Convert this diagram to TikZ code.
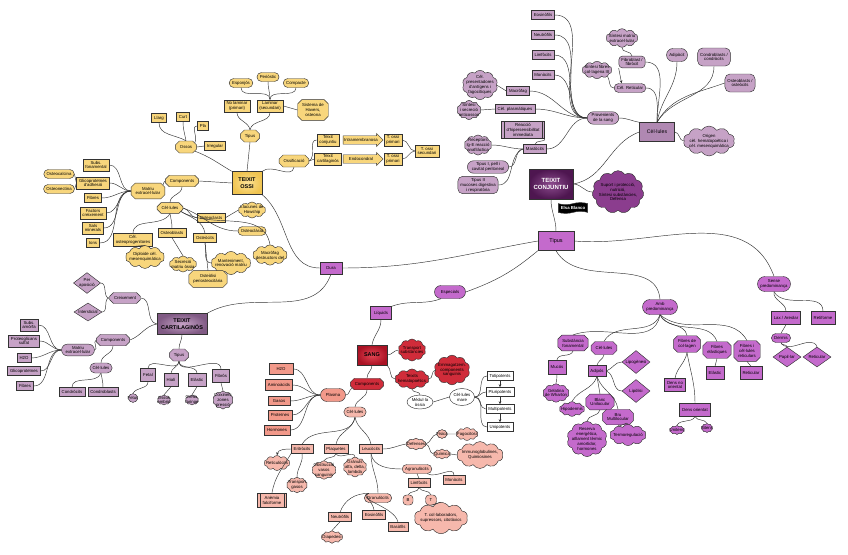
\documentclass[tikz,border=0pt]{standalone}
\usepackage{fontspec}
\setmainfont{Liberation Sans}
\usetikzlibrary{shapes.misc,shapes.geometric,shapes.symbols,shapes.arrows,arrows.meta}
\definecolor{yel}{HTML}{F8D67C}
\definecolor{mau}{HTML}{C6A2C6}
\definecolor{mau2}{HTML}{B088B2}
\definecolor{mag}{HTML}{C46ACC}
\definecolor{redd}{HTML}{D02C3A}
\definecolor{sal}{HTML}{F2998A}
\definecolor{sal2}{HTML}{F6B8AC}
\definecolor{edge}{HTML}{333333}
\tikzset{
 base/.style={draw=edge, line width=0.45pt, font=\fontsize{4.3}{4.9}\selectfont, align=center, inner xsep=2.5pt, inner ysep=1.8pt, minimum height=9pt},
 box/.style={base, rectangle},
 rbox/.style={base, rectangle, rounded corners=3.5pt},
 pill/.style={base, rounded rectangle},
 oct/.style={base, chamfered rectangle, chamfered rectangle xsep=2pt, chamfered rectangle ysep=2pt},
 cld/.style={base, cloud, cloud puffs=10, cloud puff arc=115, aspect=2.2, inner xsep=-2.2pt, inner ysep=-2.2pt},
 dia/.style={base, diamond, aspect=1.3, inner sep=0pt},
 ell/.style={base, ellipse, inner sep=0.5pt, fill=white},
 dbox/.style={box, inner xsep=5pt, path picture={\draw[edge,line width=0.4pt] ([xshift=2.2pt]path picture bounding box.north west) -- ([xshift=2.2pt]path picture bounding box.south west) ([xshift=-2.2pt]path picture bounding box.north east) -- ([xshift=-2.2pt]path picture bounding box.south east);}},
 barr/.style={base, single arrow, single arrow head extend=1.5pt, minimum height=40pt, minimum width=13pt, inner xsep=0.5pt, inner ysep=1pt},
 ln/.style={draw=edge, line width=0.45pt},
 ar/.style={ln, -{Stealth[length=3pt,width=2.6pt]}},
 Y/.style={fill=yel}, M/.style={fill=mau}, G/.style={fill=mag}, R/.style={fill=redd}, S/.style={fill=sal}, S2/.style={fill=sal2}, W/.style={fill=white}
}
\begin{document}
\begin{tikzpicture}[x=1pt,y=-1pt]
\useasboundingbox[fill=white] (0,0) rectangle (848,554);
% ================= top right (mauve) =================
\node[box,M] (eos) at (543,15) {Eosinòfils};
\node[box,M] (neu) at (543,35) {Neutròfils};
\node[box,M] (lim) at (543,55) {Limfòcits};
\node[box,M] (mon) at (543,75) {Monòcits};
\node[box,M] (mac) at (518,91) {Macròfag};
\node[cld,M,aspect=1.3] (cpa) at (480,85) {Cèl.\\presentadores\\d'antígens i\\fagocítiques};
\node[box,M] (cpl) at (515,109) {Cèl. plasmàtiques};
\node[cld,M,aspect=1.4] (sin) at (469,110) {Síntesi\\i secreció\\anticossos};
\node[pill,M] (prov) at (603,118) {Provenients\\de la sang};
\node[dbox,M] (rea) at (523,130) {Reacció\\d'hipersensibilitat\\immediata};
\node[cld,M,aspect=1.6] (rec) at (478,145) {Receptors\\Ig-E reacció\\anafilàctica};
\node[box,M] (mas) at (535,149) {Mastòcits};
\node[pill,M] (tI) at (488,167) {Tipus I, pell i\\cavitat peritoneal};
\node[rbox,M,rounded corners=5pt] (tII) at (478,185) {Tipus II\\mucoses digestiva\\i respiratòria};
\node[box,draw=edge,inner color={rgb,255:red,140;green,76;blue,142},outer color={rgb,255:red,78;green,22;blue,80},text=white,minimum width=44pt,minimum height=30pt,font=\fontsize{6}{7}\selectfont\bfseries] (tc) at (551,184) {TEIXIT\\CONJUNTIU};
\node[cld,fill={rgb,255:red,139;green,61;blue,142},cloud puffs=11,aspect=1.3] (sup) at (618,192) {Suport i protecció,\\nutrició,\\Síntesi substàncies,\\Defensa};
\node[base,tape,fill=black,text=white,font=\fontsize{4.3}{4.9}\selectfont\bfseries,tape bend height=2pt] (elsa) at (573,208) {Elsa Blanco};
\node[cld,M] (smat) at (622,38) {Síntesi matriu\\extracel·lular};
\node[cld,M] (sfib) at (597,70) {Síntesi fibres\\col·lagena III};
\node[rbox,M] (fib) at (632,62) {Fibroblast /\\fibròcit};
\node[pill,M] (ret) at (630,88) {Cèl. Reticular};
\node[pill,M,minimum height=13pt] (adi) at (677,55) {Adipòcit};
\node[rbox,M,rounded corners=5pt,minimum height=18pt] (cond) at (714,57) {Condroblasts /\\condròcits};
\node[rbox,M,rounded corners=5pt,minimum height=18pt] (ost) at (740,83) {Osteoblasts /\\osteòcits};
\node[box,fill=mau2,minimum width=35pt,minimum height=19pt,font=\fontsize{5.2}{6}\selectfont] (cel) at (657,132) {Cèl·lules};
\node[cld,M] (ori) at (709,141) {Origen\\cèl. hematopoètica i\\cèl. mesenquimàtica};
\node[box,G,minimum width=36pt,minimum height=19pt,font=\fontsize{5.5}{6}\selectfont] (tipus) at (556,241) {Tipus};
% connections
\foreach \n in {eos,neu,lim,mon,mac,cpl,mas}{\draw[ln] (\n.east) to[out=0,in=180] (prov.west);}
\draw[ln] (mac.west) -- (cpa.east);
\draw[ln] (cpl.west) -- (sin.east);
\draw[ln] (mas.north) to[out=90,in=-60] (rea.south east);
\draw[ln] (mas.west) to[out=180,in=0] (rec.east);
\draw[ln] (mas.west) to[out=180,in=0] (tI.east);
\draw[ln] (mas.west) to[out=200,in=0] (tII.east);
\draw[ln] (smat.south) to[out=-100,in=90] (fib.north);
\draw[ar] (fib.south west) -- ([xshift=3pt]ret.north west);
\draw[ln] (sfib.south east) to[out=-60,in=180] (ret.west);
\foreach \n in {fib,ret}{\draw[ln] (\n.east) to[out=0,in=90] (cel.north);}
\draw[ln] (adi.south) to[out=-90,in=80] (cel.north);
\draw[ln] (cond.south) to[out=-90,in=60] (cel.north);
\draw[ln] (ost.west) to[out=200,in=60] (cel.north);
\draw[ln] (prov.east) to[out=0,in=170] (cel.north west);
\draw[ln] (tc.east) to[out=10,in=200] (cel.west);
\draw[ln] (tc.east) to[out=0,in=180] (sup.west);
\draw[ln] (cel.east) to[out=0,in=180] (ori.west);
\draw[ln] (tc.south) to[out=-90,in=90] (tipus.north);
% ================= yellow: TEIXIT OSSI =================
\node[pill,Y] (esp) at (241,83) {Esponjós};
\node[pill,Y] (per) at (268,77) {Periòstic};
\node[pill,Y] (com) at (296,83) {Compacte};
\node[box,Y] (nol) at (237,106) {No laminar\\(primari)};
\node[box,Y] (lam) at (270,106) {Laminar\\(secundari)};
\node[oct,Y] (hav) at (313,110) {Sistema de\\Havers,\\osteona};
\node[oct,Y,minimum height=12pt] (tip) at (250,136) {Tipus};
\node[box,Y] (llg) at (159,118) {Llarg};
\node[box,Y] (crt) at (183,117) {Curt};
\node[box,Y] (pla) at (203,126) {Pla};
\node[oct,Y,minimum height=12pt] (oss) at (186,147) {Ossos};
\node[box,Y] (irr) at (215,146) {Irregular};
\node[oct,Y,minimum height=12pt] (osf) at (294,161) {Ossificació};
\node[box,draw=edge,inner color={rgb,255:red,252;green,226;blue,150},outer color={rgb,255:red,240;green,196;blue,80},minimum width=30pt,minimum height=23pt,font=\fontsize{5.5}{6.5}\selectfont\bfseries] (to) at (247,183) {TEIXIT\\OSSI};
\node[oct,Y,minimum height=11pt] (comp) at (182,181) {Components};
\node[box,Y] (tcj) at (328,140) {Teixit\\conjuntiu};
\node[box,Y] (tca) at (328,159) {Teixit\\cartilaginós};
\node[barr,Y] (intr) at (361,140) {Intramembranosa};
\node[barr,Y] (endo) at (361,159) {Endocondral};
\node[box,Y] (tp1) at (393,140) {T. ossi\\primari};
\node[box,Y] (tp2) at (393,159) {T. ossi\\primari};
\node[box,Y] (tsec) at (427,151) {T. ossi\\secundari};
\node[oct,Y] (mat) at (148,191) {Matriu\\extracel·lular};
\node[box,Y] (sf) at (96,165) {Subs.\\fonamental};
\node[box,Y] (gli) at (93,183) {Glicoproteïnes\\d'adhesió};
\node[box,Y] (fbr) at (93,198) {Fibres};
\node[box,Y] (fac) at (93,213) {Factors\\creixement};
\node[box,Y] (sal) at (93,228) {Sals\\minerals};
\node[box,Y] (ion) at (93,243) {Ions};
\node[pill,Y] (ocal) at (59,174) {Osteocalcina};
\node[pill,Y] (onec) at (59,189) {Osteonectina};
\node[oct,Y] (cell) at (170,208) {Cèl·lules};
\node[box,Y] (cop) at (133,240) {Cèl.\\osteoprogenitores};
\node[box,Y] (obl) at (172,233) {Osteoblasts};
\node[cld,Y] (dip) at (145,257) {Diploide cèl.\\mesenquimàtica};
\node[cld,Y] (sec) at (183,264) {Secreció\\matriu òssia};
\node[box,Y] (ocl) at (211,218) {Osteoclasts};
\node[box,Y] (ocy) at (205,238) {Osteòcits};
\node[cld,Y] (llac) at (252,210) {Llacunes de\\Howship};
\node[pill,Y] (ocl2) at (252,231) {Osteoclàsia};
\node[cld,Y] (macd) at (270,255) {Macròfag\\destructors del};
\node[cld,Y] (mant) at (231,263) {Manteniment,\\renovació matriu};
\node[oct,Y] (ostl) at (208,279) {Osteòlisi\\periosteocitària};
\draw[ln] (to.north) -- (tip.south);
\draw[ln] (tip.north) to[out=100,in=-90] (nol.south);
\draw[ln] (tip.north) to[out=80,in=-90] (lam.south);
\foreach \n in {esp,per,com}{\draw[ln] (lam.north) to[out=90,in=-90] (\n.south);}
\draw[ln] (lam.east) -- (hav.west);
\draw[ln] (to.north west) to[out=150,in=-20] (oss.south east);
\draw[ln] (oss.north) to[out=150,in=-90] (llg.south);
\draw[ln] (oss.north) to[out=100,in=-90] (crt.south);
\draw[ln] (oss.north east) to[out=60,in=180] (pla.west);
\draw[ln] (oss.east) -- (irr.west);
\draw[ln] (to.north east) to[out=40,in=-100] (osf.south);
\draw[ln] (osf.east) to[out=30,in=180] (tcj.west);
\draw[ln] (osf.east) to[out=0,in=180] (tca.west);
\draw[ln] (tp1.east) to[out=0,in=180] (tsec.west);
\draw[ln] (tp2.east) to[out=0,in=180] (tsec.west);
\draw[ln] (to.west) -- (comp.east);
\draw[ln] (comp.west) to[out=180,in=40] (mat.north east);
\draw[ln] (comp.south) to[out=-90,in=90] (cell.north);
\foreach \n in {sf,gli,fbr,fac,sal,ion}{\draw[ln] (\n.east) to[out=0,in=180] (mat.west);}
\draw[ln] (gli.west) -- (ocal.east);
\draw[ln] (gli.west) -- (onec.east);
\draw[ln] (cell.south) to[out=-120,in=90] (cop.north);
\draw[ln] (cell.south) to[out=-80,in=90] (obl.north);
\draw[ln] (cell.east) to[out=-10,in=180] (ocl.west);
\draw[ln] (cell.south east) to[out=-30,in=100] (ocy.north);
\draw[ln] (cell.east) to[out=-20,in=180] (ocl2.west);
\draw[ln] (cell.south east) to[out=-30,in=100] (macd.north);
\draw[ln] (ocl.east) -- (llac.west);
\draw[ln] (ocy.south) to[out=-80,in=180] (mant.west);
\draw[ln] (ocy.south) -- (ostl.north);
\draw[ln] (cop.south) -- (dip.north);
\draw[ln] (obl.south) -- (sec.north);
% ================= magenta hubs =================
\node[box,G,minimum width=22pt,minimum height=12pt] (dura) at (331,268) {Dura};
\node[pill,G,minimum width=36pt,minimum height=13pt] (espc) at (450,292) {Especials};
\node[box,G,minimum width=21pt,minimum height=13pt] (liq) at (381,313) {Líquids};
\draw[ln] (tipus.west) to[out=190,in=0] (dura.east);
\draw[ln] (tipus.south west) to[out=-140,in=20] (espc.east);
\draw[ln] (to.south east) to[out=-40,in=180] (dura.west);
\draw[ln] (liq.north east) to[out=20,in=200] (espc.south west);
% ================= cartilaginous (mauve) =================
\node[dia,M,minimum width=26pt] (pap) at (87,283) {Per\\aposició};
\node[dia,M,minimum width=28pt] (int) at (88,312) {Intersticial};
\node[oct,M,minimum height=11pt] (cre) at (125,298) {Creixement};
\node[box,draw=edge,inner color=mau,outer color={rgb,255:red,128;green,90;blue,132},minimum width=50pt,minimum height=21pt,font=\fontsize{5.5}{6.5}\selectfont\bfseries] (tcar) at (182,324) {TEIXIT\\CARTILAGINÓS};
\node[oct,M,minimum height=11pt] (ccomp) at (113,340) {Components};
\node[pill,M] (cmat) at (78,350) {Matriu\\extracel·lular};
\node[box,M] (sam) at (29,325) {Subs.\\amòrfa};
\node[box,M] (pro) at (24,341) {Proteoglicans\\sulfat};
\node[box,M] (ch2o) at (24,358) {H2O};
\node[box,M] (cgli) at (24,371) {Glicoproteïnes};
\node[box,M] (cfib) at (25,386) {Fibres};
\node[pill,M,minimum height=10pt] (ccel) at (101,368) {Cèl·lules};
\node[box,M] (cdc) at (72,392) {Condròcits};
\node[box,M] (cdb) at (103,392) {Condroblasts};
\node[oct,M,minimum height=12pt] (ctip) at (179,355) {Tipus};
\node[box,M,minimum height=13pt] (fet) at (148,375) {Fetal};
\node[box,M,minimum height=13pt] (hia) at (171,380) {Hialí};
\node[box,M,minimum height=13pt] (ela) at (197,380) {Elàstic};
\node[box,M,minimum height=13pt] (fibr) at (221,376) {Fibrós};
\node[cld,M] (fts) at (133,398) {Fetus};
\node[cld,M,aspect=1.5] (oemb) at (164,400) {Ossos\\embrió};
\node[cld,M,aspect=1.5] (orf) at (192,400) {Orella,\\faringe};
\node[cld,M,aspect=1.2] (coi) at (223,400) {Coixinets\\zones\\pressió};
\draw[ln] (dura.south) to[out=-110,in=30] (tcar.north east);
\draw[ln] (tcar.west) to[out=170,in=0] (cre.east);
\draw[ln] (cre.west) to[out=180,in=0] (pap.east);
\draw[ln] (cre.west) to[out=180,in=0] (int.east);
\draw[ln] (tcar.west) to[out=190,in=20] (ccomp.east);
\draw[ln] (ccomp.west) to[out=200,in=0] (cmat.east);
\draw[ln] (ccomp.south) to[out=-90,in=90] (ccel.north);
\foreach \n in {sam,pro,ch2o,cgli,cfib}{\draw[ln] (\n.east) to[out=0,in=180] (cmat.west);}
\draw[ln] (ccel.south) to[out=-110,in=90] (cdc.north);
\draw[ln] (ccel.south) to[out=-80,in=90] (cdb.north);
\draw[ln] (tcar.south) to[out=-90,in=90] (ctip.north);
\foreach \n in {fet,hia,ela,fibr}{\draw[ln] (ctip.south) to[out=-90,in=90] (\n.north);}
\draw[ln] (fet.south) to[out=-90,in=60] (fts.north);
\draw[ln] (hia.south) -- (oemb.north);
\draw[ln] (ela.south) -- (orf.north);
\draw[ln] (fibr.south) -- (coi.north);
% ================= red: SANG =================
\node[box,draw=edge,inner color={rgb,255:red,228;green,70;blue,84},outer color={rgb,255:red,170;green,18;blue,36},minimum width=30pt,minimum height=20pt,font=\fontsize{5.5}{6.5}\selectfont\bfseries] (sang) at (372,355) {SANG};
\node[cld,R,aspect=1.4] (trs) at (412,350) {Transport\\substàncies};
\node[cld,R] (teh) at (412,379) {Teixits\\hematopoètics};
\node[cld,R,aspect=1.3] (emm) at (452,370) {Emmagatzem.\\components\\sanguinis};
\node[oct,R,minimum height=11pt] (rcomp) at (367,384) {Components};
\node[pill,S,minimum height=13pt,minimum width=30pt] (pls) at (333,395) {Plasma};
\node[box,S,minimum width=24pt,minimum height=11pt] (h2o) at (281,369) {H2O};
\node[box,S,minimum height=11pt] (ami) at (279,385) {Aminoàcids};
\node[box,S,minimum width=22pt] (gas) at (279,401) {Gasos};
\node[box,S,minimum width=24pt,minimum height=10pt] (prt) at (280,415) {Proteïnes};
\node[box,S,minimum width=26pt,minimum height=10pt] (hor) at (277,430) {Hormones};
\node[pill,S2,minimum height=10pt] (rcel) at (355,412) {Cèl·lules};
\node[ell,minimum width=26pt,minimum height=14pt] (med) at (420,402) {Mèdul·la\\òssia};
\node[ell,minimum width=20pt,minimum height=17pt] (cmare) at (462,397) {Cèl·lules\\mare};
\node[box,W] (tot) at (500,376) {Totipotents};
\node[box,W] (plu) at (500,392) {Pluripotents};
\node[box,W] (mul) at (500,409) {Multipotents};
\node[box,W] (uni) at (500,427) {Unipotents};
\node[box,S2] (eri) at (302,449) {Eritròcits};
\node[box,S2] (plq) at (336,449) {Plaquetes};
\node[box,S2] (leu) at (371,449) {Leucòcits};
\node[cld,S2] (rtc) at (277,463) {Reticulòcits};
\node[cld,S2,aspect=1.5] (tgas) at (297,485) {Transport\\gasos};
\node[dbox,S2,minimum height=14pt] (anf) at (272,500) {Anèmia\\falciforme};
\node[cld,S2,aspect=1.5] (obs) at (324,470) {Obstrucció\\vasos\\sanguinis};
\node[cld,S2,aspect=1.3] (gra) at (355,467) {Grànuls\\alfa, delta,\\lambda};
\node[cld,S2] (def) at (416,444) {Defenses};
\node[cld,S2] (fis) at (442,434) {Física};
\node[cld,S2] (fag) at (467,434) {Fagocitosi};
\node[cld,S2] (qui) at (442,454) {Química};
\node[cld,S2] (imm) at (480,455) {Immunoglobulines,\\Quimiosines};
\node[pill,S2] (agr) at (417,469) {Agranulòcits};
\node[box,S2] (rlim) at (419,483) {Limfòcits};
\node[box,S2] (rmon) at (454,480) {Monòcits};
\node[rbox,S2,minimum width=10pt,minimum height=10pt] (bb) at (408,500) {B};
\node[rbox,S2,minimum width=11pt,minimum height=10pt] (tt) at (431,500) {T};
\node[cld,S2] (tcol) at (441,518) {T. col·laboradors,\\supressors, citotòxics};
\node[pill,S2] (grn) at (378,498) {Granulòcits};
\node[box,S2] (rneu) at (340,517) {Neutròfils};
\node[box,S2] (reos) at (374,515) {Eosinòfils};
\node[box,S2] (rbas) at (398,527) {Basòfils};
\node[cld,S2] (diap) at (332,537) {Diapedesi};
\draw[ln] (liq.south) to[out=-90,in=80] (sang.north);
\draw[ln] (sang.east) to[out=0,in=180] (trs.west);
\draw[ln] (sang.south east) to[out=-40,in=180] (teh.west);
\draw[ln] (teh.east) to[out=0,in=190] (emm.west);
\draw[ln] (teh.south) to[out=-80,in=90] (med.north);
\draw[ln] (med.east) -- (cmare.west);
\foreach \n in {tot,plu,mul,uni}{\draw[ln] (cmare.east) to[out=0,in=180] (\n.west);}
\draw[ar] (tot.south) -- (plu.north);
\draw[ar] (plu.south) -- (mul.north);
\draw[ar] (mul.south) -- (uni.north);
\draw[ln] (sang.south) to[out=-90,in=90] (rcomp.north);
\draw[ln] (rcomp.south west) to[out=-150,in=0] (pls.east);
\draw[ln] (rcomp.south) to[out=-90,in=80] (rcel.north);
\foreach \n in {h2o,ami,gas,prt,hor}{\draw[ln] (\n.east) to[out=0,in=180] (pls.west);}
\draw[ln] (rcel.south) to[out=-100,in=60] (eri.north);
\draw[ln] (rcel.south) to[out=-100,in=80] (plq.north);
\draw[ln] (rcel.south) to[out=-80,in=100] (leu.north);
\draw[ar] (eri.west) to[out=180,in=80] (rtc.north);
\draw[ln] (eri.south) to[out=-80,in=90] (tgas.north);
\draw[ln] (eri.south west) to[out=-120,in=80] (anf.north);
\draw[ln] (plq.south) to[out=-100,in=60] (obs.north);
\draw[ln] (plq.south) to[out=-60,in=100] (gra.north);
\draw[ln] (leu.east) to[out=0,in=190] (def.west);
\draw[ln] (def.east) to[out=20,in=190] (fis.west);
\draw[ln] (def.east) to[out=-20,in=170] (qui.west);
\draw[ln] (fis.east) -- (fag.west);
\draw[ln] (qui.east) -- (imm.west);
\draw[ln] (leu.south) to[out=-80,in=180] (agr.west);
\draw[ln] (leu.south) to[out=-90,in=90] (grn.north);
\draw[ln] (agr.south) -- (rlim.north);
\draw[ln] (agr.south east) to[out=-30,in=90] (rmon.north);
\draw[ln] (rlim.south) to[out=-100,in=60] (bb.north);
\draw[ln] (rlim.south) to[out=-60,in=110] (tt.north);
\draw[ln] (tt.south) -- (tcol.north);
\draw[ln] (grn.north west) to[out=180,in=70] (rneu.north);
\draw[ln] (grn.north west) to[out=190,in=90] (reos.north);
\draw[ln] (grn.north west) to[out=200,in=100] (rbas.north);
\draw[ln] (rneu.south) -- (diap.north);
% ================= magenta cluster =================
\node[pill,G,minimum width=40pt,minimum height=15pt] (amb) at (660,307) {Amb\\predominança};
\node[pill,G,minimum width=38pt,minimum height=15pt] (sen) at (774,284) {Sense\\predominança};
\node[oct,G] (sfon) at (573,343) {Substància\\fonamental};
\node[box,G,minimum height=14pt] (muc) at (557,367) {Mucós};
\node[cld,G,aspect=1.7] (gel) at (556,393) {Gelatina\\de Wharton};
\node[oct,G,minimum height=13pt] (mcel) at (604,348) {Cèl·lules};
\node[box,G,minimum height=11pt] (adp) at (597,371) {Adipós};
\node[dia,G,minimum width=28pt,minimum height=23pt] (lipg) at (636,362) {Lipogènesi};
\node[dia,G,minimum width=28pt,minimum height=23pt] (lipl) at (636,391) {Lipòlisi};
\node[cld,G] (hip) at (572,409) {Hipodermis};
\node[oct,G] (bla) at (600,402) {Blanc\\Unilocular};
\node[oct,G] (bru) at (618,417) {Bru\\Multilocular};
\node[cld,G,aspect=1.2] (res) at (587,439) {Reserva\\energètica,\\aïllament tèrmic\\amortidor,\\hormones};
\node[cld,G] (ter) at (628,435) {Termoregulació};
\node[oct,G] (fcol) at (687,344) {Fibres de\\col·lagen};
\node[box,G,minimum height=13pt] (dno) at (675,385) {Dens no\\orientat};
\node[box,G,minimum height=13pt] (dor) at (695,410) {Dens orientat};
\node[cld,G] (unt) at (677,430) {Unitens};
\node[cld,G] (bit) at (707,428) {Bitens};
\node[oct,G] (fel) at (717,350) {Fibres\\elàstiques};
\node[box,G,minimum height=13pt] (mela) at (715,373) {Elàstic};
\node[oct,G] (fret) at (747,351) {Fibres i\\cèl·lules\\reticulars};
\node[box,G,minimum height=13pt] (mret) at (751,373) {Reticular};
\node[box,G,minimum height=13pt] (lax) at (786,318) {Lax / Areolar};
\node[box,G,minimum height=13pt] (rtf) at (823,318) {Retiforme};
\node[pill,G] (der) at (781,338) {Dermis};
\node[dia,G,minimum width=28pt,minimum height=20pt] (mpap) at (787,357) {Papil·lar};
\node[dia,G,minimum width=28pt,minimum height=20pt] (mrtd) at (817,357) {Reticular};
\draw[ln] (tipus.south) to[out=-60,in=95] (amb.north);
\draw[ln] (tipus.east) to[out=-5,in=110] (sen.north);
\draw[ln] (amb.south) to[out=-100,in=20] (sfon.north);
\draw[ln] (amb.south) to[out=-110,in=60] (mcel.north);
\draw[ln] (amb.south) to[out=-70,in=100] (fcol.north);
\draw[ln] (amb.south) to[out=-60,in=110] (fel.north);
\draw[ln] (amb.south) to[out=-40,in=120] (fret.north);
\draw[ln] (sfon.south) to[out=-110,in=80] (muc.north);
\draw[ln] (muc.south) to[out=-80,in=90] (gel.north);
\draw[ln] (mcel.south) to[out=-100,in=80] (adp.north);
\draw[ln] (adp.east) to[out=20,in=180] (lipg.west);
\draw[ln] (adp.east) to[out=-20,in=180] (lipl.west);
\draw[ln] (adp.south) to[out=-110,in=60] (hip.north);
\draw[ln] (adp.south) -- (bla.north);
\draw[ln] (adp.south) to[out=-70,in=100] (bru.north);
\draw[ln] (bla.south) to[out=-100,in=80] (res.north);
\draw[ln] (bru.south) to[out=-90,in=90] (ter.north);
\draw[ln] (fcol.south) to[out=-100,in=80] (dno.north);
\draw[ln] (fcol.south) to[out=-80,in=90] (dor.north);
\draw[ln] (dor.south) to[out=-120,in=60] (unt.north);
\draw[ln] (dor.south) to[out=-60,in=120] (bit.north);
\draw[ln] (fel.south) -- (mela.north);
\draw[ln] (fret.south) -- (mret.north);
\draw[ln] (sen.south) to[out=-100,in=90] (lax.north);
\draw[ln] (sen.south) to[out=-60,in=90] (rtf.north);
\draw[ln] (lax.south) -- (der.north);
\draw[ln] (der.south) to[out=-100,in=90] (mpap.north);
\draw[ln] (der.south) to[out=-60,in=110] (mrtd.north);
\end{tikzpicture}
\end{document}
